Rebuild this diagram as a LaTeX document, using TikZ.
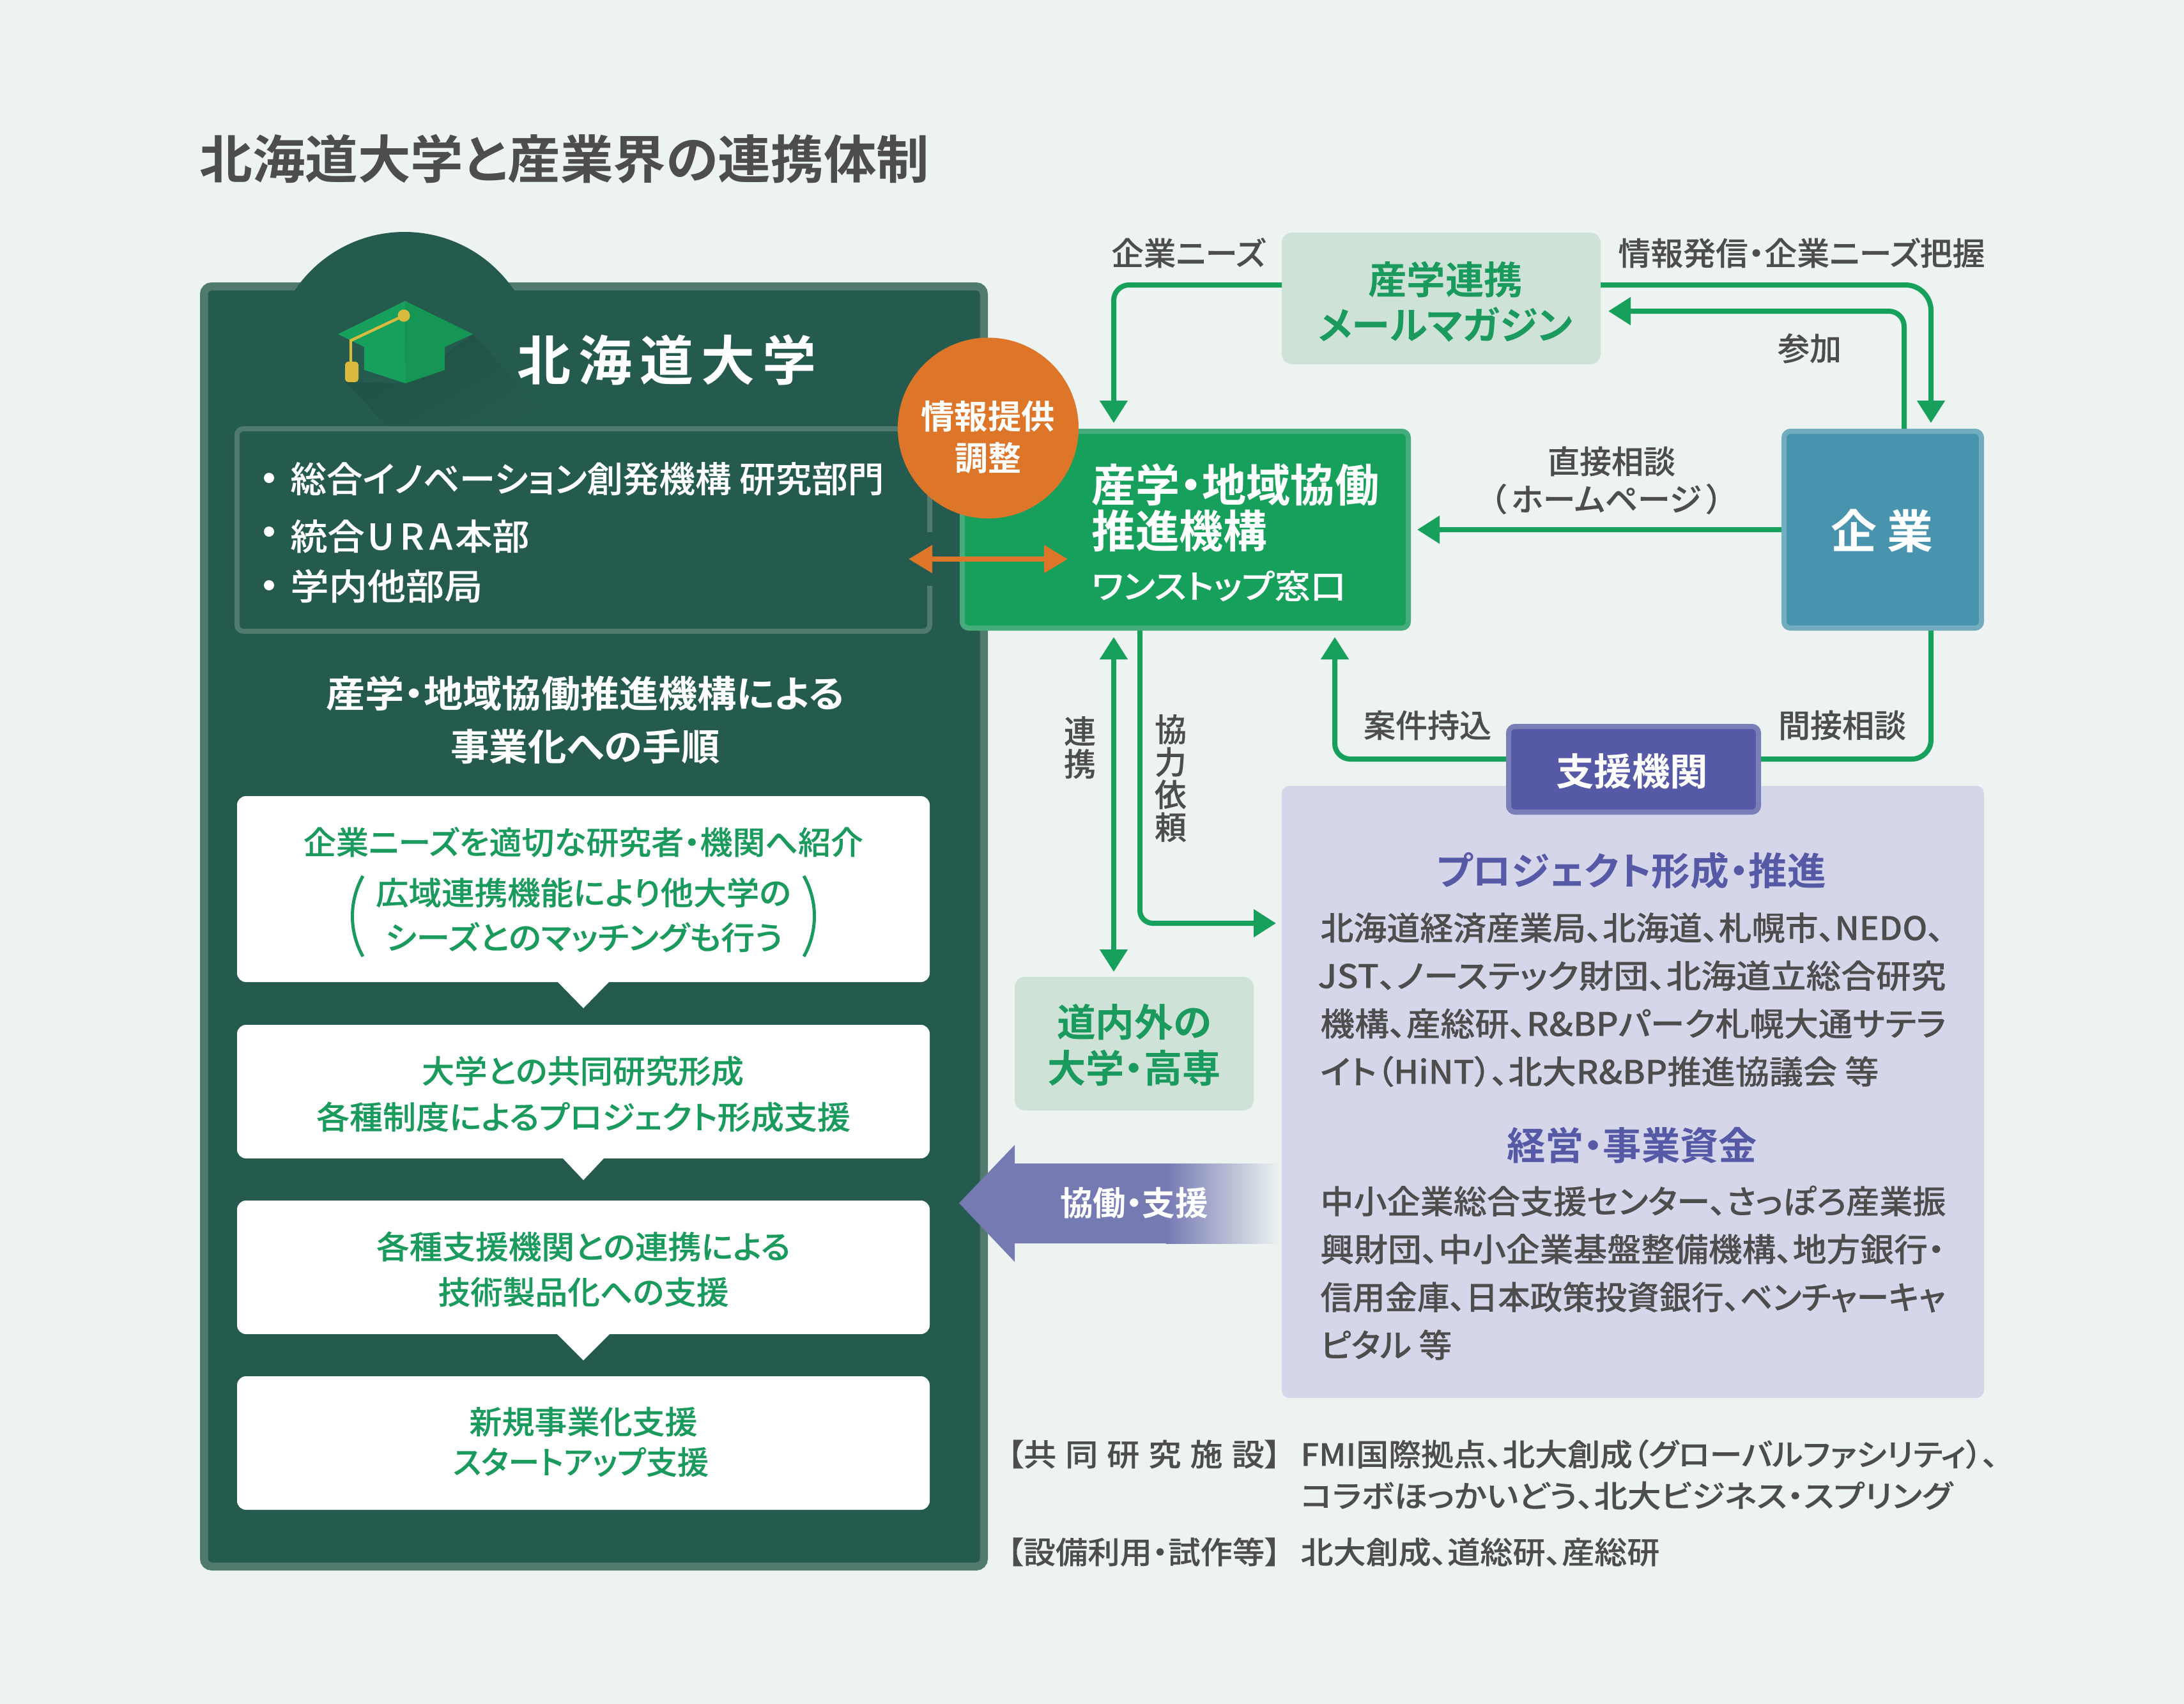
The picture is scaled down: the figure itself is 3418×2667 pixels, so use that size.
\documentclass[tikz,border=0pt]{standalone}
\usepackage{fontspec}
\usepackage{graphicx}
\usetikzlibrary{arrows.meta,calc}
\setmainfont{Noto Sans CJK JP}[RawFeature=+palt,BoldFont={* Bold}]
\newfontfamily\cjkm{Noto Sans CJK JP}[UprightFont={* Medium},RawFeature=+palt,FakeBold=0.2]
\definecolor{bgc}{HTML}{ECF3F0}
\definecolor{panelc}{HTML}{255B4E}
\definecolor{panelb}{HTML}{507A6E}
\definecolor{grn}{HTML}{17A05B}
\definecolor{grnb}{HTML}{46AC7C}
\definecolor{grnd}{HTML}{1A9B5D}
\definecolor{pale}{HTML}{CFE2D8}
\definecolor{blu}{HTML}{4894AE}
\definecolor{blub}{HTML}{72ADBF}
\definecolor{vio}{HTML}{5659A5}
\definecolor{viob}{HTML}{7A7FB8}
\definecolor{lav}{HTML}{D5D6EA}
\definecolor{arrv}{HTML}{767AB3}
\definecolor{org}{HTML}{DD7629}
\definecolor{gold}{HTML}{D9BA3F}
\definecolor{gry}{HTML}{4D4D4D}
\tikzset{
  conn/.style={draw=grn,line width=4pt},
  gtip/.style={-{Triangle[length=17.5pt,width=21pt]}},
  gtips/.style={{Triangle[length=17.5pt,width=21pt]}-{Triangle[length=17.5pt,width=21pt]}},
  wh/.style={text=white},
  gr/.style={text=gry},
  gn/.style={text=grnd},
  vi/.style={text=vio},
}
% name, l, t, r, b (outer edges, px), border px, style
\newcommand{\Bx}[7]{%
  \node[inner sep=0pt,line width=#6*0.5pt,minimum width={(#4-#2-#6)*0.5pt},minimum height={(#5-#3-#6)*0.5pt},#7]
    (#1) at ({(#2+#4)/2},{(#3+#5)/2}) {};}
% name, anchor base/base west, x, ycentre, size px, width px, style, font, text
\newcommand{\Tx}[9]{%
  \pgfmathsetmacro\fsz{#5*0.5}%
  \pgfmathsetmacro\fwd{#6*0.5}%
  \node[anchor=#2,inner sep=0pt,#7] (#1) at (#3,{#4+0.40*#5}) {\resizebox{\fwd pt}{\height}{#8\fontsize{\fsz pt}{\fsz pt}\selectfont #9}};}
\begin{document}
\begin{tikzpicture}[x=0.5pt,y=-0.5pt]
\useasboundingbox (0,0) rectangle (3418,2667);
\fill[bgc] (0,0) rectangle (3418,2667);

\Tx{title}{base west}{312}{247}{81}{1142}{gr}{\bfseries}{北海道大学と産業界の連携体制}

% university panel
\Bx{panel}{313}{442}{1546}{2458}{12.5}{draw=panelb,fill=panelc,rounded corners=6pt}
\fill[panelc] (633,570) circle (103.5pt);
% cap shadow
\shade[top color=black!12!panelc,middle color=black!5!panelc,bottom color=panelc,shading angle=30] (740,523) -- (844,640) -- (760,690) -- (607,668) -- (540,598) -- (635,600) -- cycle;
% inner list box
\Bx{inner}{367}{667}{1459}{992}{8}{draw=panelb,fill=panelc,rounded corners=5pt}
\fill[panelc] (1450,833) rectangle (1462,917);
% cap
\fill[grn] (634,471) -- (529,523) -- (570,543) -- (570,579) -- (635,600) -- cycle;
\fill[grn!94!black] (634,471) -- (740,523) -- (696,543) -- (696,579) -- (635,600) -- cycle;
\draw[gold,line width=2.2pt] (632,494) -- (549,533) -- (549,568);
\fill[gold] (632,494) circle (4.8pt);
\fill[gold,rounded corners=2.5pt] (540,598) -- (540,566) -- (561,566) -- (561,598) -- cycle;
\node[anchor=base west,inner sep=0pt,wh] (uni) at (809,595) {\bfseries\fontsize{42}{42}\selectfont 北\kern6pt 海\kern6pt 道\kern6pt 大\kern6pt 学};

% bullets
\fill[white] (421,748) circle (4pt) (421,832) circle (4pt) (421,916) circle (4pt);
\Tx{l1}{base west}{454}{748}{56}{929}{wh}{\cjkm}{総合イノベーション創発機構 研究部門}
\Tx{l2}{base west}{454}{838}{56}{374}{wh}{\cjkm}{統合\kern2pt U\kern4pt R\kern4pt A\kern2pt 本部}
\Tx{l3}{base west}{454}{916}{56}{301}{wh}{\cjkm}{学内他部局}

\Tx{h1}{base}{916}{1084}{58}{811}{wh}{\bfseries}{産学・地域協働推進機構による}
\Tx{h2}{base}{916}{1167}{58}{421}{wh}{\bfseries}{事業化への手順}

% step boxes
\Bx{b1}{371}{1246}{1455}{1537}{0}{fill=white,rounded corners=7pt}
\Bx{b2}{371}{1604}{1455}{1813}{0}{fill=white,rounded corners=7pt}
\Bx{b3}{371}{1879}{1455}{2088}{0}{fill=white,rounded corners=7pt}
\Bx{b4}{371}{2154}{1455}{2363}{0}{fill=white,rounded corners=7pt}
\fill[white] (872,1536) -- (954,1536) -- (913,1578) -- cycle;
\fill[white] (880,1812) -- (946,1812) -- (913,1847) -- cycle;
\fill[white] (871,2087) -- (955,2087) -- (913,2129) -- cycle;
\Tx{s1a}{base}{913}{1317}{50}{876}{gn}{\cjkm}{企業ニーズを適切な研究者・機関へ紹介}
\Tx{s1b}{base}{913}{1396}{50}{650}{gn}{\cjkm}{広域連携機能により他大学の}
\Tx{s1c}{base}{914}{1466}{50}{622}{gn}{\cjkm}{シーズとのマッチングも行う}
\draw[grnd,line width=2.5pt] (568,1371) .. controls (546,1410) and (546,1458) .. (568,1497);
\draw[grnd,line width=2.5pt] (1258,1371) .. controls (1280,1410) and (1280,1458) .. (1258,1497);
\Tx{s2a}{base}{912}{1675}{50}{504}{gn}{\cjkm}{大学との共同研究形成}
\Tx{s2b}{base}{913}{1747}{50}{836}{gn}{\cjkm}{各種制度によるプロジェクト形成支援}
\Tx{s3a}{base}{913}{1950}{50}{648}{gn}{\cjkm}{各種支援機関との連携による}
\Tx{s3b}{base}{913}{2021}{50}{455}{gn}{\cjkm}{技術製品化への支援}
\Tx{s4a}{base}{913}{2224}{50}{357}{gn}{\cjkm}{新規事業化支援}
\Tx{s4b}{base}{909}{2287}{50}{400}{gn}{\cjkm}{スタートアップ支援}

% right-hand boxes
\Bx{lavb}{2006}{1230}{3105}{2188}{0}{fill=lav,rounded corners=6pt}
\Bx{mag}{2006}{364}{2505}{570}{0}{fill=pale,rounded corners=8pt}
\Bx{dounai}{1588}{1529}{1962}{1738}{0}{fill=pale,rounded corners=8pt}
\Bx{kig}{2788}{671}{3105}{987}{8}{draw=blub,fill=blu,rounded corners=5pt}
\Bx{orgbox}{1502}{671}{2208}{987}{8}{draw=grnb,fill=grn,rounded corners=5pt}
\Bx{shien}{2357}{1133}{2756}{1275}{8}{draw=viob,fill=vio,rounded corners=5pt}

% connectors
\draw[conn,gtip,rounded corners=12pt,shorten >=4.5pt] (mag.west |- 0,446) -| (1743,0 |- orgbox.north);
\draw[conn,gtip,rounded corners=20pt,shorten >=4.5pt] (mag.east |- 0,446) -| (3022,0 |- kig.north);
\draw[conn,gtip,rounded corners=12pt,shorten >=6pt] (2980,0 |- kig.north) |- (mag.east |- 0,487);
\draw[conn,gtip,shorten >=5pt] (kig.west |- 0,829) -- (orgbox.east |- 0,829);
\draw[conn,rounded corners=15pt] (3022,0 |- kig.south) |- (shien.east |- 0,1188);
\draw[conn,gtip,rounded corners=12pt,shorten >=5pt] (shien.west |- 0,1188) -| (2089,0 |- orgbox.south);
\draw[conn,gtips,shorten >=4pt,shorten <=5pt] (1743,0 |- orgbox.south) -- (1743,0 |- dounai.north);
\draw[conn,gtip,rounded corners=10pt,shorten >=4.5pt] (1784,0 |- orgbox.south) |- (lavb.west |- 0,1445);

% orange arrow and circle
\coordinate (oa) at (1422,875);
\coordinate (ob) at (1671,875);
\draw[org,line width=4pt,{Triangle[length=18.5pt,width=21pt]}-{Triangle[length=18.5pt,width=21pt]}] (oa) -- (ob);
\node[circle,fill=org,inner sep=0pt,minimum size=141.5pt] (circ) at (1546.5,670) {};
\Tx{c1}{base}{1546}{651}{52}{209}{wh}{\bfseries}{情報提供}
\Tx{c2}{base}{1546}{716}{52}{104}{wh}{\bfseries}{調整}

% box texts
\Tx{o1}{base west}{1708}{757}{70}{450}{wh}{\bfseries}{産学・地域協働}
\Tx{o2}{base west}{1708}{829}{70}{275}{wh}{\bfseries}{推進機構}
\Tx{o3}{base west}{1708}{916}{52}{398}{wh}{\cjkm}{ワンストップ窓口}
\node[anchor=base,inner sep=0pt,wh] (kigt) at (2945,858) {\bfseries\fontsize{36}{36}\selectfont 企\kern8pt 業};
\Tx{m1}{base}{2262}{436}{60}{242}{gn}{\bfseries}{産学連携}
\Tx{m2}{base}{2262}{507}{60}{399}{gn}{\bfseries}{メールマガジン}
\Tx{d1}{base}{1775}{1598}{60}{242}{gn}{\bfseries}{道内外の}
\Tx{d2}{base}{1775}{1670}{60}{271}{gn}{\bfseries}{大学・高専}
\Tx{st}{base}{2554}{1206}{59}{238}{wh}{\bfseries}{支援機関}

% labels
\Tx{la1}{base}{1860}{395}{50}{241}{gr}{\cjkm}{企業ニーズ}
\Tx{la2}{base west}{2532}{395}{50}{574}{gr}{\cjkm}{情報発信・企業ニーズ把握}
\Tx{la3}{base}{2832}{544}{50}{100}{gr}{\cjkm}{参加}
\Tx{la4}{base}{2522}{721}{50}{200}{gr}{\cjkm}{直接相談}
\Tx{la5}{base}{2514}{780}{50}{364}{gr}{\cjkm}{（\kern4pt ホームページ\kern4pt ）}
\Tx{la6}{base}{2234}{1134}{50}{200}{gr}{\cjkm}{案件持込}
\Tx{la7}{base}{2883}{1134}{50}{200}{gr}{\cjkm}{間接相談}
\node[align=center,inner sep=0pt,gr,font=\cjkm\fontsize{25}{25.5}\selectfont] (la8) at (1690,1170) {連\\携};
\node[align=center,inner sep=0pt,gr,font=\cjkm\fontsize{25}{25.5}\selectfont] (la9) at (1832,1218) {協\\力\\依\\頼};

% collaboration arrow
\fill[arrv] (1501,1883) -- (1588,1792) -- (1588,1821) -- (1826,1821) -- (1826,1946) -- (1588,1946) -- (1588,1975) -- cycle;
\shade[left color=arrv,right color=bgc] (1825,1821) rectangle (2002,1946);
\Tx{kyo}{base}{1775}{1882}{52}{232}{wh}{\bfseries}{協働・支援}

% support panel text
\Tx{p1}{base}{2553}{1361}{60}{610}{vi}{\bfseries}{プロジェクト形成・推進}
\Tx{p2}{base west}{2066}{1451}{51}{976}{gr}{\cjkm}{北海道経済産業局、北海道、札幌市、NEDO、}
\Tx{p3}{base west}{2062}{1526}{51}{983}{gr}{\cjkm}{JST、ノーステック財団、北海道立総合研究}
\Tx{p4}{base west}{2066}{1601}{51}{979}{gr}{\cjkm}{機構、産総研、R\&BPパーク札幌大通サテラ}
\Tx{p5}{base west}{2066}{1676}{51}{874}{gr}{\cjkm}{イト（HiNT）、北大R\&BP推進協議会 等}
\Tx{p6}{base}{2554}{1791}{60}{392}{vi}{\bfseries}{経営・事業資金}
\Tx{p7}{base west}{2066}{1879}{51}{979}{gr}{\cjkm}{中小企業総合支援センター、さっぽろ産業振}
\Tx{p8}{base west}{2066}{1954}{51}{977}{gr}{\cjkm}{興財団、中小企業基盤整備機構、地方銀行・}
\Tx{p9}{base west}{2066}{2029}{51}{978}{gr}{\cjkm}{信用金庫、日本政策投資銀行、ベンチャーキャ}
\Tx{p10}{base west}{2066}{2104}{51}{206}{gr}{\cjkm}{ピタル 等}

% footer
\Tx{f1}{base west}{1576}{2275}{48}{428}{gr}{\cjkm}{【共\kern6.5pt 同\kern6.5pt 研\kern6.5pt 究\kern6.5pt 施\kern6.5pt 設】}
\Tx{f2}{base west}{2035}{2275}{48}{1092}{gr}{\cjkm}{FMI国際拠点、北大創成（グローバルファシリティ）、}
\Tx{f3}{base west}{2035}{2340}{48}{1020}{gr}{\cjkm}{コラボほっかいどう、北大ビジネス・スプリング}
\Tx{f4}{base west}{1576}{2428}{48}{428}{gr}{\cjkm}{【設備利用・試作等】}
\Tx{f5}{base west}{2035}{2428}{48}{562}{gr}{\cjkm}{北大創成、道総研、産総研}
\end{tikzpicture}
\end{document}
